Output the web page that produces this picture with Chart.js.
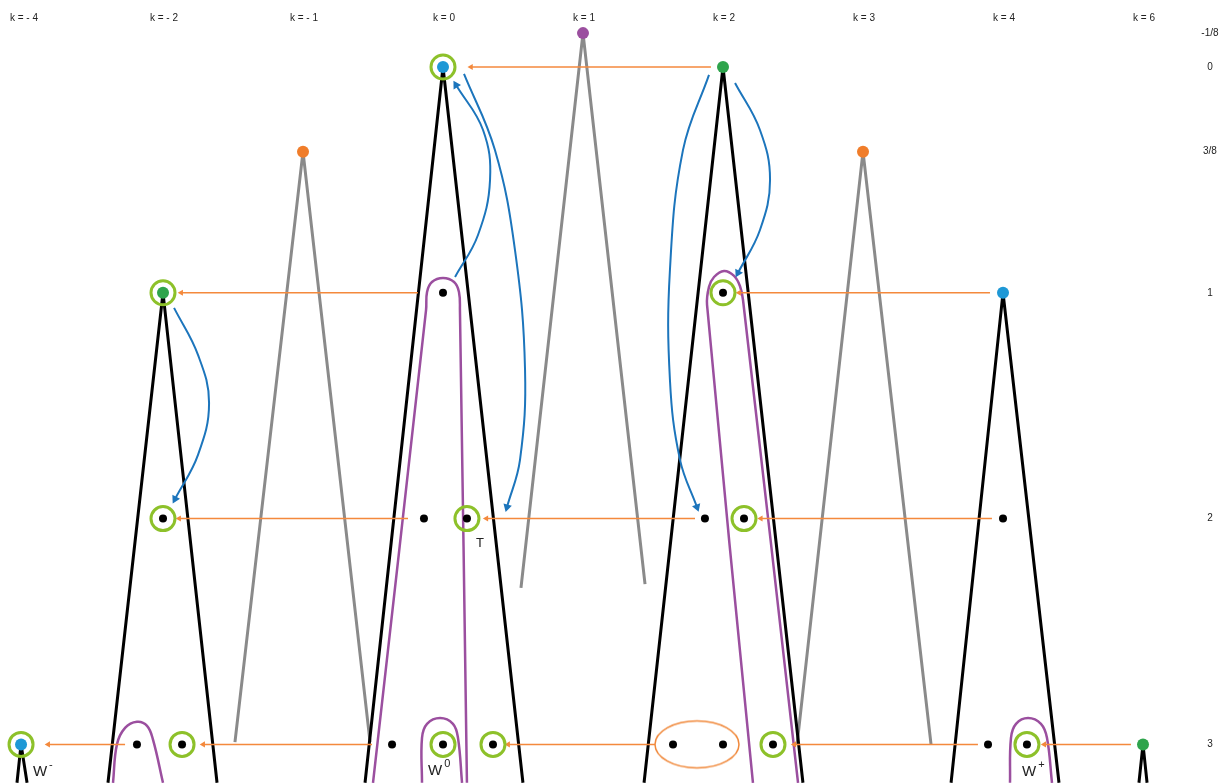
<!DOCTYPE html>
<html>
<head>
<meta charset="utf-8">
<script src="https://cdn.jsdelivr.net/npm/chart.js@4.4.0/dist/chart.umd.min.js"></script>
<style>
  html, body { margin: 0; padding: 0; background: #fff; }
  #wrap { width: 1232px; height: 783px; position: relative; }
</style>
</head>
<body>
<div id="wrap"><canvas id="levelChart"></canvas></div>
<script>
// columns along the top (k), drawn at positions 0..8
var kLabels = ['k = - 4', 'k = - 2', 'k = - 1', 'k = 0', 'k = 1', 'k = 2', 'k = 3', 'k = 4', 'k = 6'];
var kPos = [0, 1, 2, 3, 4, 5, 6, 7, 8];

// levels on the right
var levelTicks = [-0.15, 0, 0.375, 1, 2, 3];
var levelLabels = ['-1/8', '0', '3/8', '1', '2', '3'];

// cones: [left foot, apex, right foot]
var blackCones = [
  [[2.443, 3.17], [3, 0], [3.571, 3.17]],
  [[4.436, 3.17], [5, 0], [5.571, 3.17]],
  [[0.607, 3.17], [1, 1], [1.386, 3.17]],
  [[6.629, 3.17], [7, 1], [7.4, 3.17]],
  [[-0.043, 3.17], [-0.014, 3], [0.029, 3.17]],
  [[7.971, 3.17], [8, 3], [8.029, 3.17]]
];
var grayCones = [
  [[1.514, 2.99], [2, 0.375], [2.479, 2.99]],
  [[3.557, 2.307], [4, -0.15], [4.443, 2.29]],
  [[5.529, 3.0], [6, 0.375], [6.486, 3.0]]
];

// purple loops
var loops = [
  [[2.5, 3.17], [2.879, 1.076], [2.886, 0.996], [2.921, 0.952], [3.0, 0.934], [3.079, 0.952], [3.114, 0.996], [3.121, 1.076], [3.171, 3.17]],
  [[5.214, 3.17], [4.886, 1.054], [4.9, 0.974], [4.936, 0.93], [5.007, 0.903], [5.079, 0.925], [5.121, 0.97], [5.143, 1.032], [5.536, 3.17]],
  [[0.643, 3.17], [0.671, 3.0], [0.729, 2.927], [0.814, 2.9], [0.886, 2.918], [0.929, 2.98], [1.0, 3.17]],
  [[2.85, 3.17], [2.85, 2.971], [2.886, 2.909], [2.979, 2.883], [3.071, 2.909], [3.107, 2.971], [3.136, 3.17]],
  [[7.05, 3.17], [7.057, 2.971], [7.093, 2.909], [7.179, 2.883], [7.271, 2.909], [7.314, 2.971], [7.35, 3.17]]
];

// nodes
var blueNodes = [[3, 0], [7, 1], [-0.014, 3]];
var greenNodes = [[5, 0], [1, 1], [8, 3]];
var orangeNodes = [[2, 0.375], [6, 0.375]];
var purpleNodes = [[4, -0.15]];
var blackNodes = [[3, 1], [5, 1], [1, 2], [2.864, 2], [3.171, 2], [4.871, 2], [5.15, 2], [7, 2],
  [0.814, 3], [1.136, 3], [2.636, 3], [3, 3], [3.357, 3], [4.643, 3], [5, 3], [5.357, 3], [6.893, 3], [7.171, 3]];
var ringedNodes = [[3, 0], [1, 1], [5, 1], [1, 2], [3.171, 2], [5.15, 2],
  [-0.014, 3], [1.136, 3], [3, 3], [3.357, 3], [5.357, 3], [7.171, 3]];
var pairedNodes = [[4.814, 3]];

// orange maps: [from, to]
var orangeMaps = [
  [[4.914, 0], [3.2, 0]],
  [[2.821, 1], [1.13, 1]],
  [[6.907, 1], [5.115, 1]],
  [[2.75, 2], [1.115, 2]],
  [[4.8, 2], [3.31, 2]],
  [[6.921, 2], [5.27, 2]],
  [[0.729, 3], [0.18, 3]],
  [[2.493, 3], [1.287, 3]],
  [[4.514, 3], [3.465, 3]],
  [[6.821, 3], [5.51, 3]],
  [[7.914, 3], [7.295, 3]]
];

// blue curved maps
var blueMaps = [
  [[3.086, 0.93], [3.25, 0.744], [3.336, 0.5], [3.286, 0.279], [3.093, 0.08]],
  [[3.15, 0.031], [3.371, 0.368], [3.514, 0.81], [3.586, 1.342], [3.55, 1.74], [3.457, 1.949]],
  [[4.9, 0.035], [4.714, 0.368], [4.621, 0.899], [4.621, 1.386], [4.693, 1.74], [4.814, 1.949]],
  [[5.086, 0.071], [5.264, 0.279], [5.336, 0.5], [5.264, 0.722], [5.107, 0.912]],
  [[1.079, 1.067], [1.25, 1.275], [1.329, 1.488], [1.25, 1.718], [1.086, 1.913]]
];

// node names
var nodeNames = ['T', 'W', 'W', 'W'];
var nodeSups = ['', '-', '0', '+'];
var nodeNameAt = [[3.236, 2.108], [0.071, 3.122], [2.893, 3.118], [7.136, 3.122]];

function pts(list) {
  return list.map(function (p) { return { x: p[0], y: p[1] }; });
}

function headAngle(ctx) {
  var d = ctx.dataset.data, n = d.length;
  if (ctx.dataIndex !== n - 1) return 0;
  var xs = ctx.chart.scales.x, ys = ctx.chart.scales.y;
  var dx = xs.getPixelForValue(d[n - 1].x) - xs.getPixelForValue(d[n - 2].x);
  var dy = ys.getPixelForValue(d[n - 1].y) - ys.getPixelForValue(d[n - 2].y);
  return Math.atan2(dy, dx) * 180 / Math.PI + 90;
}

function lineSet(p, color, width, tension, order) {
  return {
    data: pts(p), showLine: true, borderColor: color, borderWidth: width,
    borderJoinStyle: 'round', tension: tension, pointRadius: 0, order: order
  };
}

function arrowSet(p, color, width, head, tension) {
  var s = lineSet(p, color, width, tension, 2);
  s.backgroundColor = color;
  s.pointStyle = 'triangle';
  s.pointBorderWidth = 0;
  s.pointBackgroundColor = color;
  s.pointRadius = function (ctx) { return ctx.dataIndex === ctx.dataset.data.length - 1 ? head : 0; };
  s.pointRotation = headAngle;
  return s;
}

function dotSet(p, color, r) {
  return {
    data: pts(p), showLine: false, pointRadius: r, pointBorderWidth: 0,
    pointBackgroundColor: color, order: 0
  };
}

// ellipse mark for the paired nodes
var ellipseMark = document.createElement('canvas');
ellipseMark.width = 90;
ellipseMark.height = 52;
var ec = ellipseMark.getContext('2d');
ec.strokeStyle = '#f0883a';
ec.lineWidth = 1.5;
ec.beginPath();
ec.ellipse(45, 26, 42, 23.5, 0, 0, Math.PI * 2);
ec.stroke();

var datasets = [];
blackCones.forEach(function (c) { datasets.push(lineSet(c, '#000000', 3, 0, 5)); });
grayCones.forEach(function (c) { datasets.push(lineSet(c, '#8a8a8a', 3, 0, 6)); });
loops.forEach(function (c) { datasets.push(lineSet(c, '#9b4f9f', 2.5, 0.4, 4)); });
orangeMaps.forEach(function (c) { datasets.push(arrowSet(c, '#f4893c', 1.5, 3.5, 0)); });
blueMaps.forEach(function (c) { datasets.push(arrowSet(c, '#1c75bc', 2, 5, 0.4)); });
datasets.push({
  data: pts(ringedNodes), showLine: false, pointRadius: 12, pointBorderWidth: 3,
  pointBorderColor: '#8dc12a', pointBackgroundColor: 'rgba(255,255,255,0)', order: 1
});
datasets.push({
  data: pts(pairedNodes), showLine: false, pointRadius: 1, pointStyle: ellipseMark, order: 1
});
datasets.push(dotSet(blueNodes, '#1e98d6', 6));
datasets.push(dotSet(greenNodes, '#2ea44c', 6));
datasets.push(dotSet(orangeNodes, '#f07d2a', 6));
datasets.push(dotSet(purpleNodes, '#9b4f9f', 6));
datasets.push(dotSet(blackNodes, '#000000', 4));

// texts: k row on top, levels on the right, node names
var textPlugin = {
  id: 'texts',
  afterDatasetsDraw: function (chart) {
    var c = chart.ctx, xs = chart.scales.x, ys = chart.scales.y;
    c.save();
    c.fillStyle = '#222';
    c.font = '10px "Liberation Sans", Arial, sans-serif';
    c.textAlign = 'center';
    c.textBaseline = 'middle';
    kLabels.forEach(function (t, i) {
      c.fillText(t, xs.getPixelForValue(kPos[i]) + 1, ys.getPixelForValue(-0.218));
    });
    levelLabels.forEach(function (t, i) {
      c.fillText(t, xs.getPixelForValue(8.478), ys.getPixelForValue(levelTicks[i]));
    });
    c.textAlign = 'left';
    nodeNames.forEach(function (t, i) {
      var x = xs.getPixelForValue(nodeNameAt[i][0]);
      var y = ys.getPixelForValue(nodeNameAt[i][1]);
      c.font = (t === 'T' ? '13px' : '15px') + ' "Liberation Sans", Arial, sans-serif';
      c.fillText(t, x, y);
      if (nodeSups[i]) {
        var w = c.measureText(t).width;
        c.font = '11px "Liberation Sans", Arial, sans-serif';
        c.fillText(nodeSups[i], x + w + 2, y - 7);
      }
    });
    c.restore();
  }
};

var ctx = document.getElementById('levelChart').getContext('2d');
var chart = new Chart(ctx, {
  type: 'scatter',
  data: { datasets: datasets },
  options: {
    responsive: true,
    maintainAspectRatio: false,
    animation: false,
    layout: { padding: 0, autoPadding: false },
    plugins: { legend: { display: false }, tooltip: { enabled: false } },
    scales: {
      x: { type: 'linear', display: false, min: -0.1643, max: 8.6357 },
      y: { type: 'linear', display: false, reverse: true, min: -0.2967, max: 3.171 }
    }
  },
  plugins: [textPlugin]
});
</script>
</body>
</html>
